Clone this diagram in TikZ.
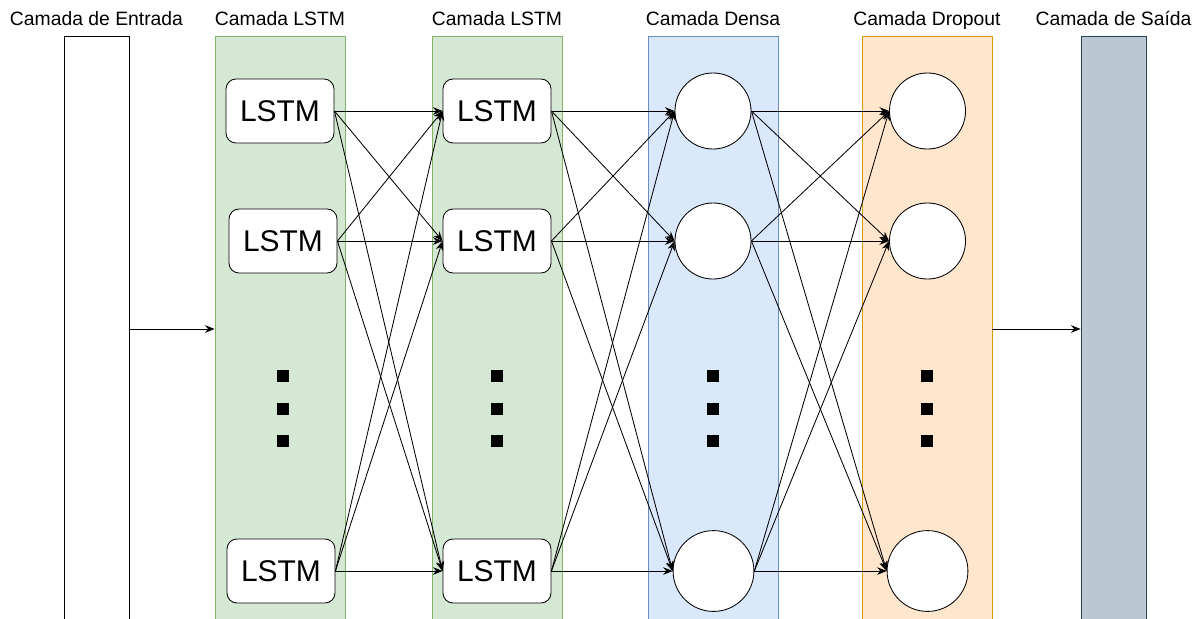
\documentclass[tikz,border=0pt]{standalone}
\usepackage{fontspec}
\setmainfont{Liberation Sans}
\usepackage{tikz}
\usetikzlibrary{arrows.meta,positioning,shapes.geometric}
\definecolor{lstmFill}{HTML}{D5E8D4}
\definecolor{lstmLine}{HTML}{82B366}
\definecolor{denseFill}{HTML}{DAE8FC}
\definecolor{denseLine}{HTML}{6C8EBF}
\definecolor{dropFill}{HTML}{FFE6CC}
\definecolor{dropLine}{HTML}{D79B00}
\definecolor{outFill}{HTML}{BAC8D3}
\definecolor{outLine}{HTML}{23445D}
\tikzset{
  nn/column/.style={draw, line width=0.6pt, minimum width=3.25cm, minimum height=14.65cm, inner sep=0pt},
  nn/thincol/.style={nn/column, minimum width=1.625cm},
  nn/title/.style={font=\fontsize{13.75}{16}\selectfont, inner sep=0pt, anchor=base},
  nn/lstm/.style={draw, fill=white, rounded corners=2.5mm, line width=0.6pt, minimum width=2.7cm, minimum height=1.6cm, inner sep=0pt, font=\fontsize{21.3}{24}\selectfont},
  nn/neuron/.style={draw, fill=white, circle, line width=0.6pt, minimum size=1.9cm, inner sep=0pt},
  nn/dot/.style={fill=black, rectangle, minimum size=0.3cm, inner sep=0pt},
  nn/edge/.style={line width=0.6pt, -{Stealth[length=2.4mm,width=1.9mm,inset=0.8mm]}}
}

\begin{document}
\begin{tikzpicture}[x=0.025cm, y=-0.025cm]
  \clip (0,0) rectangle (1203,618);

  % layers
  \node[nn/thincol, fill=white] (inLayer) at (96.5,329) {};
  \node[nn/column, fill=lstmFill, draw=lstmLine] (colA) at (280,329) {};
  \node[nn/column, fill=lstmFill, draw=lstmLine] (colB) at (497,329) {};
  \node[nn/column, fill=denseFill, draw=denseLine] (colDense) at (713,329) {};
  \node[nn/column, fill=dropFill, draw=dropLine] (colDrop) at (927,329) {};
  \node[nn/thincol, fill=outFill, draw=outLine] (outLayer) at (1113.5,329) {};

  \node[nn/title] (titleIn) at (96.5,25) {Camada de Entrada};
  \node[nn/title] (titleA) at (280,25) {Camada LSTM};
  \node[nn/title] (titleB) at (497,25) {Camada LSTM};
  \node[nn/title] (titleDense) at (713,25) {Camada Densa};
  \node[nn/title] (titleDrop) at (927,25) {Camada Dropout};
  \node[nn/title] (titleOut) at (1113.5,25) {Camada de Saída};

  % units
  \node[nn/lstm] (lstmA1) at (280,111) {LSTM};
  \node[nn/lstm] (lstmA2) at (283,241) {LSTM};
  \node[nn/lstm] (lstmA3) at (281,571) {LSTM};
  \node[nn/lstm] (lstmB1) at (497,111) {LSTM};
  \node[nn/lstm] (lstmB2) at (497,241) {LSTM};
  \node[nn/lstm] (lstmB3) at (497,571) {LSTM};

  \node[nn/neuron] (dense1) at (713,111) {};
  \node[nn/neuron] (dense2) at (713,241) {};
  \node[nn/neuron, minimum size=2.02cm] (dense3) at (713.5,571) {};
  \node[nn/neuron] (drop1) at (927.5,111) {};
  \node[nn/neuron] (drop2) at (927.5,241) {};
  \node[nn/neuron, minimum size=2.02cm] (drop3) at (927.5,571) {};

  % ellipsis dots
  \foreach \name/\x in {A/283, B/497, Dense/713, Drop/927}{
    \node[nn/dot] (dots\name1) at (\x,376) {};
    \node[nn/dot] (dots\name2) at (\x,409) {};
    \node[nn/dot] (dots\name3) at (\x,441) {};
  }

  % connections
  \draw[nn/edge] (inLayer.east) -- (colA.west);
  \draw[nn/edge] (colDrop.east) -- (outLayer.west);
  \foreach \i in {1,2,3}{
    \foreach \j in {1,2,3}{
      \draw[nn/edge] (lstmA\i.east) -- (lstmB\j.west);
      \draw[nn/edge] (lstmB\i.east) -- (dense\j.west);
      \draw[nn/edge] (dense\i.east) -- (drop\j.west);
    }
  }
\end{tikzpicture}
\end{document}
